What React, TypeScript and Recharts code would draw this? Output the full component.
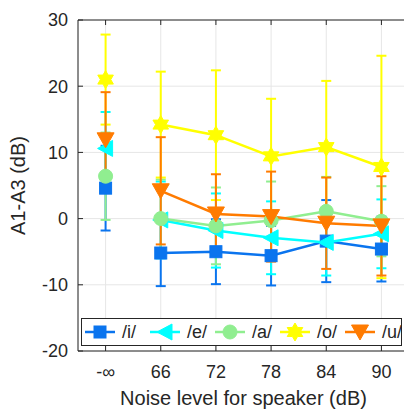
import {
  ComposedChart,
  Line,
  XAxis,
  YAxis,
  CartesianGrid,
  ErrorBar,
  Legend,
} from "recharts";

const categories = ["-\u221e", "66", "72", "78", "84", "90"];
const yTicks = [-20, -10, 0, 10, 20, 30];

const vowels = ["/i/", "/e/", "/a/", "/o/", "/u/"];
const keys = ["i", "e", "a", "o", "u"];
const colors = ["#0a74ee", "#00ffff", "#90ee90", "#ffff00", "#ff7b00"];
const markers = ["square", "left", "circle", "hex", "down"];

const iMean = [4.6, -5.2, -5.0, -5.6, -3.4, -4.6];
const iErr = [6.4, 5.0, 4.9, 4.5, 6.2, 4.9];
const eMean = [10.6, -0.2, -1.8, -2.9, -3.6, -2.3];
const eErr = [5.5, 5.8, 5.6, 5.5, 5.0, 5.2];
const aMean = [6.4, 0.0, -1.1, -0.3, 1.1, -0.4];
const aErr = [6.6, 5.9, 5.8, 5.9, 5.2, 5.3];
const oMean = [21.0, 14.2, 12.6, 9.4, 10.8, 7.8];
const oErr = [6.8, 8.0, 9.8, 8.7, 10.0, 16.8];
const uMean = [11.9, 4.2, 0.7, 0.3, -0.7, -1.1];
const uErr = [7.2, 8.1, 6.0, 6.8, 6.9, 7.5];

const means = [iMean, eMean, aMean, oMean, uMean];
const errs = [iErr, eErr, aErr, oErr, uErr];

// the "-inf" (quiet) condition is drawn on its own, not joined to the noise levels
const data = categories.map((label, idx) => {
  const row: Record<string, number | string | null> = { x: idx + 1, label };
  keys.forEach((k, s) => {
    const quiet = idx === 0;
    row[k] = quiet ? null : means[s][idx];
    row[k + "Err"] = quiet ? null : errs[s][idx];
    row[k + "Q"] = quiet ? means[s][idx] : null;
    row[k + "QErr"] = quiet ? errs[s][idx] : null;
  });
  return row;
});

const font = "'Liberation Sans', Arial, sans-serif";
const ink = "#262626";

function Marker({ kind, cx, cy, color }: { kind: string; cx: number; cy: number; color: string }) {
  if (kind === "square") {
    return <rect x={cx - 6} y={cy - 6} width={12} height={12} fill={color} stroke={color} />;
  }
  if (kind === "left") {
    return (
      <polygon
        points={`${cx - 8},${cy} ${cx + 7},${cy - 8} ${cx + 7},${cy + 8}`}
        fill={color}
        stroke={color}
      />
    );
  }
  if (kind === "circle") {
    return <circle cx={cx} cy={cy} r={7} fill={color} stroke={color} />;
  }
  if (kind === "down") {
    return (
      <polygon
        points={`${cx - 8.5},${cy - 7} ${cx + 8.5},${cy - 7} ${cx},${cy + 8}`}
        fill={color}
        stroke={color}
      />
    );
  }
  // hexagram
  const pts: string[] = [];
  for (let n = 0; n < 12; n++) {
    const r = n % 2 === 0 ? 9 : 5.2;
    const ang = (Math.PI / 6) * n - Math.PI / 2;
    pts.push(`${cx + r * Math.cos(ang)},${cy + r * Math.sin(ang)}`);
  }
  return <polygon points={pts.join(" ")} fill={color} stroke={color} />;
}

function makeDot(k: string, s: number) {
  return (p: any) => {
    if (p.value == null || p.cy == null || isNaN(p.cy)) {
      return <g key={`${k}-${p.index}`} />;
    }
    return <Marker key={`${k}-${p.index}`} kind={markers[s]} cx={p.cx} cy={p.cy} color={colors[s]} />;
  };
}

function LegendBox() {
  return (
    <svg width={321} height={28} style={{ display: "block" }}>
      <rect x={0.5} y={0.5} width={320} height={27} fill="#fff" stroke={ink} strokeWidth={1} />
      {vowels.map((v, s) => {
        const x0 = 4 + s * 65;
        return (
          <g key={v}>
            <line x1={x0} x2={x0 + 30} y1={14} y2={14} stroke={colors[s]} strokeWidth={2.5} />
            <Marker kind={markers[s]} cx={x0 + 15} cy={14} color={colors[s]} />
            <text x={x0 + 37} y={14} dominantBaseline="central" fontSize={18} fontFamily={font} fill={ink}>
              {v}
            </text>
          </g>
        );
      })}
    </svg>
  );
}

export default function App() {
  return (
    <div style={{ position: "absolute", left: 0, top: 0, width: 404, height: 412, overflow: "hidden", background: "#fff" }}>
      <ComposedChart
        width={420}
        height={412}
        data={data}
        margin={{ top: 0, right: 11, bottom: 0, left: 0 }}
      >
        <CartesianGrid stroke="#e6e6e6" />

        <XAxis
          dataKey="x"
          type="number"
          domain={[0.5, 6.5]}
          ticks={[1, 2, 3, 4, 5, 6]}
          tickFormatter={(v: number) => categories[v - 1]}
          height={61}
          tickSize={-5}
          tickMargin={19}
          stroke={ink}
          tick={{ fontSize: 18, fontFamily: font, fill: ink }}
          label={{
            value: "Noise level for speaker (dB)",
            position: "insideBottom",
            offset: 7,
            fontSize: 20,
            fontFamily: font,
            fill: ink,
          }}
        />

        <XAxis
          xAxisId="top"
          dataKey="x"
          type="number"
          orientation="top"
          domain={[0.5, 6.5]}
          ticks={[1, 2, 3, 4, 5, 6]}
          tickFormatter={() => ""}
          height={20}
          tickSize={-5}
          stroke={ink}
        />

        <YAxis
          type="number"
          domain={[-20, 30]}
          ticks={yTicks}
          width={78}
          tickSize={-5}
          tickMargin={15}
          stroke={ink}
          tick={{ fontSize: 18, fontFamily: font, fill: ink }}
          label={{
            content: (p: any) => {
              const vb = p.viewBox;
              const cx = vb.x + 18;
              const cy = vb.y + vb.height / 2;
              return (
                <text
                  x={cx}
                  y={cy}
                  transform={`rotate(-90 ${cx} ${cy})`}
                  textAnchor="middle"
                  dominantBaseline="central"
                  fontSize={20}
                  fontFamily={font}
                  fill={ink}
                >
                  A1-A3 (dB)
                </text>
              );
            },
          }}
        />

        {keys.map((k, s) => [
          <Line
            key={k + "Q"}
            dataKey={k + "Q"}
            name={vowels[s] + " quiet"}
            stroke="none"
            legendType="none"
            isAnimationActive={false}
            dot={makeDot(k + "Q", s)}
            activeDot={false}
          >
            <ErrorBar
              dataKey={k + "QErr"}
              direction="y"
              width={5}
              stroke={colors[s]}
              strokeWidth={2}
              isAnimationActive={false}
            />
          </Line>,
          <Line
            key={k}
            dataKey={k}
            name={vowels[s]}
            stroke={colors[s]}
            strokeWidth={2.5}
            isAnimationActive={false}
            dot={makeDot(k, s)}
            activeDot={false}
          >
            <ErrorBar
              dataKey={k + "Err"}
              direction="y"
              width={5}
              stroke={colors[s]}
              strokeWidth={2}
              isAnimationActive={false}
            />
          </Line>,
        ])}

        <Legend
          layout="vertical"
          verticalAlign="middle"
          align="center"
          wrapperStyle={{ left: 81, top: 318, width: 321, height: 28 }}
          content={() => <LegendBox />}
        />
      </ComposedChart>
    </div>
  );
}
